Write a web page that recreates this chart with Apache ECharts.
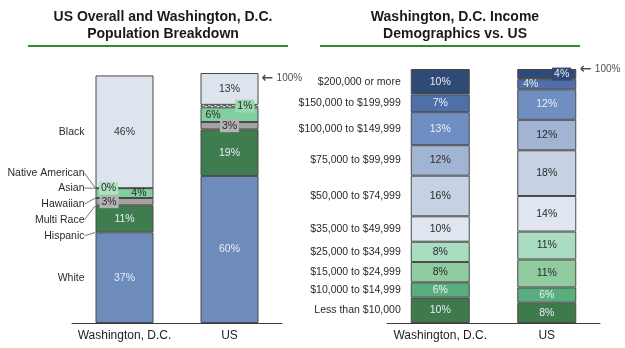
<!DOCTYPE html>
<html>
<head>
<meta charset="utf-8">
<script src="https://cdn.jsdelivr.net/npm/echarts@6/dist/echarts.min.js"></script>
<style>
  html, body { margin: 0; padding: 0; background: #ffffff; }
  #chart { width: 625px; height: 348px; }
</style>
</head>
<body>
<div id="chart"></div>
<script>
// Categories on both x axes
const places = ['Washington, D.C.', 'US'];

// Population breakdown (percent), stacked bottom to top
const raceNames = ['White', 'Hispanic', 'Multi Race', 'Hawaiian', 'Asian', 'Native American', 'Black'];
const dcRace = [37, 11, 3, 0, 4, 0, 46];
const usRace = [60, 19, 3, 0, 6, 1, 13];

// Household income brackets (percent), stacked bottom to top
const incomeNames = [
  'Less than $10,000', '$10,000 to $14,999', '$15,000 to $24,999', '$25,000 to $34,999',
  '$35,000 to $49,999', '$50,000 to $74,999', '$75,000 to $99,999', '$100,000 to $149,999',
  '$150,000 to $199,999', '$200,000 or more'
];
const dcIncome = [10, 6, 8, 8, 10, 16, 12, 13, 7, 10];
const usIncome = [8, 6, 11, 11, 14, 18, 12, 12, 4, 4];

// Marker text shown beside the US columns
const fullMark = 100;
const fullMarkText = '100%';

const FONT = '"Liberation Sans", Arial, sans-serif';
const SMALL = 10.5;
const LIGHT_TXT = '#e9eef6';
const DARK_TXT = '#2a2a2a';
const EDGE = '#4a4a4a';

// ---- styling for the population columns ----
const raceColors = ['#6d8cbb', '#3f7d4f', '#a3a3a3', '#c9c9c9', '#80cf9f', '#c4e3cf', '#dde4ee'];
// label settings per series: [DC item, US item]
const raceLabels = [
  [{ position: 'inside', color: LIGHT_TXT }, { position: 'inside', color: LIGHT_TXT }],
  [{ position: 'inside', color: LIGHT_TXT }, { position: 'inside', color: LIGHT_TXT }],
  [{ position: 'insideLeft', distance: 4, color: DARK_TXT, backgroundColor: '#b3b3b3', padding: [1, 2] },
   { position: 'inside', color: DARK_TXT, backgroundColor: '#b3b3b3', padding: [1, 2] }],
  [{ show: false }, { show: false }],
  [{ position: 'insideRight', distance: 7, color: DARK_TXT },
   { position: 'insideLeft', distance: 5, color: DARK_TXT }],
  [{ position: 'insideLeft', distance: 4, color: DARK_TXT, backgroundColor: '#b2e0c3', padding: [1, 2] },
   { position: 'insideRight', distance: 4, color: DARK_TXT, backgroundColor: '#9ad8b1', padding: [1, 2] }],
  [{ position: 'inside', color: '#333333' }, { position: 'inside', color: '#333333' }]
];
// vertical shift of the side captions so the crowded thin layers stay readable
const raceCaptionShift = [0, 17, 18, 6, -5, -15, 0];

// ---- styling for the income columns ----
const incomeColors = ['#3f7a4d', '#5aae7e', '#90cca0', '#aadcc1', '#dfe6f0', '#c6d1e4', '#a1b4d4', '#6f8fc2', '#4f6fa8', '#2f4a74'];
const incomeLightText = [true, true, false, false, false, false, false, true, true, true];

const pct = p => p.value + '%';

function raceSeries() {
  const out = [];
  raceNames.forEach((name, i) => {
    const dashed = name === 'Hawaiian' || name === 'Native American';
    out.push({
      type: 'bar', name, stack: 'race', xAxisIndex: 0, yAxisIndex: 0,
      barWidth: 58, barGap: '-100%',
      itemStyle: { color: raceColors[i], borderColor: EDGE, borderWidth: 1, borderType: dashed ? 'dashed' : 'solid' },
      label: { show: true, formatter: pct, fontFamily: FONT, fontSize: SMALL },
      data: [
        { value: dcRace[i], label: raceLabels[i][0] },
        { value: usRace[i], label: raceLabels[i][1] }
      ]
    });
  });
  // caption layer: invisible copy of the DC column that carries the row names
  raceNames.forEach((name, i) => {
    const shift = raceCaptionShift[i];
    out.push({
      type: 'bar', name: name + ' caption', stack: 'raceCaption', xAxisIndex: 0, yAxisIndex: 0,
      barWidth: 58, barGap: '-100%', silent: true,
      itemStyle: { color: 'rgba(0,0,0,0)' },
      label: {
        show: true, position: 'left', distance: 11, formatter: () => name,
        fontFamily: FONT, fontSize: SMALL, color: DARK_TXT
      },
      labelLayout: { dy: shift },
      labelLine: { show: shift !== 0, lineStyle: { color: '#777777', width: 1 } },
      data: [dcRace[i], '-']
    });
  });
  return out;
}

function incomeSeries() {
  const out = [];
  incomeNames.forEach((name, i) => {
    const txt = incomeLightText[i] ? LIGHT_TXT : DARK_TXT;
    const usLabel = { position: 'inside', color: txt };
    if (i === incomeNames.length - 1) Object.assign(usLabel, { position: 'insideRight', distance: 5, backgroundColor: '#2f4a74', padding: [1, 2] });
    if (i === incomeNames.length - 2) Object.assign(usLabel, { position: 'insideLeft', distance: 6 });
    out.push({
      type: 'bar', name, stack: 'income', xAxisIndex: 1, yAxisIndex: 1,
      barWidth: 59, barGap: '-100%',
      itemStyle: { color: incomeColors[i], borderColor: EDGE, borderWidth: 1 },
      label: { show: true, formatter: pct, fontFamily: FONT, fontSize: SMALL },
      data: [
        { value: dcIncome[i], label: { position: 'inside', color: txt } },
        { value: usIncome[i], label: usLabel }
      ]
    });
  });
  incomeNames.forEach((name, i) => {
    out.push({
      type: 'bar', name: name + ' caption', stack: 'incomeCaption', xAxisIndex: 1, yAxisIndex: 1,
      barWidth: 59, barGap: '-100%', silent: true,
      itemStyle: { color: 'rgba(0,0,0,0)' },
      label: {
        show: true, position: 'left', distance: 10, formatter: () => name,
        fontFamily: FONT, fontSize: SMALL, color: DARK_TXT
      },
      data: [dcIncome[i], '-']
    });
  });
  return out;
}

// arrow + "100%" next to each US column
function fullMarker(axis, dist) {
  return {
    type: 'scatter', xAxisIndex: axis, yAxisIndex: axis, symbolSize: 0, silent: true, z: 5,
    label: {
      show: true, position: 'right', distance: dist,
      formatter: '{a|\u2190} {b|' + fullMarkText + '}',
      rich: {
        a: { fontFamily: 'DejaVu Sans', fontSize: 14, fontWeight: 'bold', color: '#222222' },
        b: { fontFamily: FONT, fontSize: 10, color: '#222222' }
      }
    },
    data: [['US', fullMark]]
  };
}

const axisLabel = { fontFamily: FONT, fontSize: 12, color: '#222222', margin: 7, interval: 0 };

const option = {
  animation: false,
  backgroundColor: '#ffffff',
  title: [
    {
      text: 'US Overall and Washington, D.C.\nPopulation Breakdown',
      left: 158, top: 4, textAlign: 'center',
      textStyle: { fontFamily: FONT, fontSize: 14, fontWeight: 'bold', color: '#1a1a1a', lineHeight: 17 }
    },
    {
      text: 'Washington, D.C. Income\nDemographics vs. US',
      left: 450, top: 4, textAlign: 'center',
      textStyle: { fontFamily: FONT, fontSize: 14, fontWeight: 'bold', color: '#1a1a1a', lineHeight: 17 }
    }
  ],
  graphic: [
    { type: 'line', shape: { x1: 28, y1: 46, x2: 288, y2: 46 }, style: { stroke: '#2e8a2e', lineWidth: 2 } },
    { type: 'line', shape: { x1: 320, y1: 46, x2: 580, y2: 46 }, style: { stroke: '#2e8a2e', lineWidth: 2 } }
  ],
  grid: [
    { left: 72, width: 210, top: 73, height: 250 },
    { left: 387, width: 213, top: 69, height: 254 }
  ],
  xAxis: [
    { type: 'category', gridIndex: 0, data: places, axisTick: { show: false },
      axisLine: { lineStyle: { color: '#3c3c3c', width: 1 } }, axisLabel },
    { type: 'category', gridIndex: 1, data: places, axisTick: { show: false },
      axisLine: { lineStyle: { color: '#3c3c3c', width: 1 } }, axisLabel }
  ],
  yAxis: [
    { type: 'value', gridIndex: 0, min: 0, max: 102, show: false },
    { type: 'value', gridIndex: 1, min: 0, max: 100, show: false }
  ],
  series: [...raceSeries(), ...incomeSeries(), fullMarker(0, 32), fullMarker(1, 33)]
};

const chart = echarts.init(document.getElementById('chart'), null, { renderer: 'canvas' });
chart.setOption(option);
</script>
</body>
</html>
